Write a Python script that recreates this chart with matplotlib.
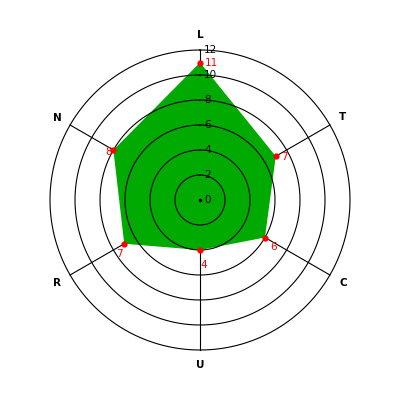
import numpy as np
import matplotlib
matplotlib.use('Agg')
import matplotlib.pyplot as plt

categories = ['L', 'T', 'C', 'U', 'R', 'N']
values = [11, 7, 6, 4, 7, 8]
ticks = [0, 2, 4, 6, 8, 10, 12]
rmax = 12

# pixel offsets for the red value labels
lab_off = [(5, 5), (5, 4), (5, -5), (0, -10), (-8, -5), (-8, 3)]

fig = plt.figure(figsize=(4, 4), dpi=100)
ax = fig.add_axes([0.125, 0.125, 0.75, 0.75], projection='polar')
ax.set_theta_zero_location('N')
ax.set_theta_direction(-1)
ax.set_ylim(0, rmax)
ax.grid(False)
ax.set_xticks([])
ax.set_yticks([])
ax.spines['polar'].set_visible(False)

angles = np.linspace(0, 2 * np.pi, len(categories), endpoint=False)

# spokes
for a in angles:
    ax.plot([a, a], [0, rmax], color='black', lw=0.8, zorder=1, clip_on=False)

# filled polygon
th = np.append(angles, angles[0])
vv = np.append(values, values[0])
ax.fill(th, vv, color='#00aa00', lw=0, zorder=2)

# rings
circ = np.linspace(0, 2 * np.pi, 361)
for t in ticks[1:]:
    ax.plot(circ, np.full_like(circ, t), color='black', lw=0.8, zorder=3,
            clip_on=False)

# tick labels along the first axis
for t in ticks:
    ax.annotate(str(t), (0, t), xytext=(4, 0), textcoords='offset pixels',
                ha='left', va='center', fontsize=7.5, color='black', zorder=5)
ax.plot([0], [0], marker='o', ms=1.5, color='black', zorder=5)

# points and value labels
ax.plot(angles, values, 'o', color='red', ms=3.5, zorder=4)
for a, v, off in zip(angles, values, lab_off):
    ax.annotate(str(v), (a, v), xytext=off, textcoords='offset pixels',
                ha='left', va='top', fontsize=7.5, color='red', zorder=5)

# category labels
for a, c in zip(angles, categories):
    ax.text(a, rmax * 1.1, c, ha='center', va='center', fontsize=7.5,
            fontweight='bold', color='black')

fig.savefig('out.png', dpi=100)
